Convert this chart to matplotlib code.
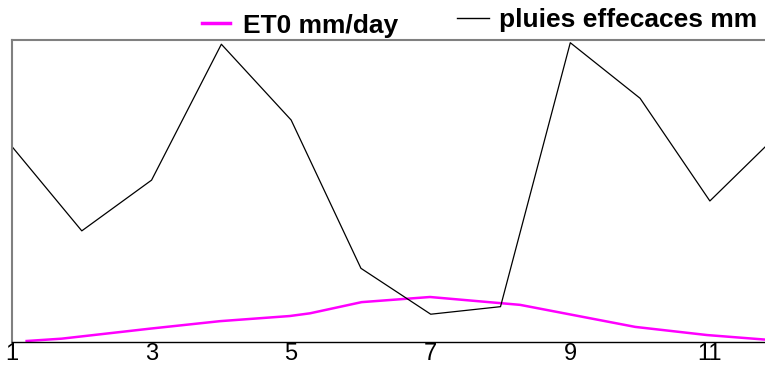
import matplotlib
matplotlib.use('Agg')
import matplotlib.pyplot as plt

plt.rcParams['font.family'] = ['Liberation Sans', 'DejaVu Sans']

# Monthly effective rain (black) and ET0 (magenta)
months = [1, 2, 3, 4, 5, 6, 7, 8, 9, 10, 11, 12]
pluies = [64.7, 36.8, 53.6, 98.6, 73.5, 24.4, 9.2, 11.7, 99.1, 80.7, 46.7, 69.3]

et0_x = [1.21, 1.71, 2.97, 3.98, 4.98, 5.27, 6.01, 6.99, 8.28, 9.93, 10.96, 11.79]
et0 = [0.33, 1.1, 4.4, 6.9, 8.6, 9.5, 13.2, 14.9, 12.3, 5.0, 2.3, 0.8]

xticks = [1, 3, 5, 7, 9, 11]

fig = plt.figure(figsize=(7.65, 3.65), dpi=100)
ax = fig.add_axes([12 / 765, 1 - 342 / 365, 1 - 12 / 765, (342 - 40) / 365])

l_et0, = ax.plot(et0_x, et0, color='#ff00ff', linewidth=1.8)
l_rain, = ax.plot(months, pluies, color='black', linewidth=0.9)

ax.set_xlim(1, 11.79)
ax.set_ylim(0, 100)
ax.set_xticks(xticks)
ax.set_xticklabels([str(t) for t in xticks], fontsize=17)
ax.tick_params(axis='x', length=0, pad=1)
ax.set_yticks([])

ax.spines['right'].set_visible(False)
ax.spines['top'].set_color('#808080')
ax.spines['left'].set_color('#808080')
ax.spines['top'].set_linewidth(1.5)
ax.spines['left'].set_linewidth(1.5)
ax.spines['bottom'].set_color('black')
ax.spines['bottom'].set_linewidth(1.0)

leg1 = fig.legend([l_et0], ['ET0 mm/day'], loc='center left',
                  bbox_to_anchor=(202 / 765, 1 - 25.5 / 365), frameon=False,
                  borderpad=0, borderaxespad=0, handlelength=1.05,
                  handletextpad=0.5, prop={'weight': 'bold', 'size': 19})
leg2 = fig.legend([l_rain], ['pluies effecaces mm'], loc='center left',
                  bbox_to_anchor=(457 / 765, 1 - 20 / 365), frameon=False,
                  borderpad=0, borderaxespad=0, handlelength=1.2,
                  handletextpad=0.38, prop={'weight': 'bold', 'size': 19})
leg1.get_lines()[0].set_linewidth(2.5)
leg2.get_lines()[0].set_linewidth(1.0)

fig.savefig('out.png', dpi=100)
